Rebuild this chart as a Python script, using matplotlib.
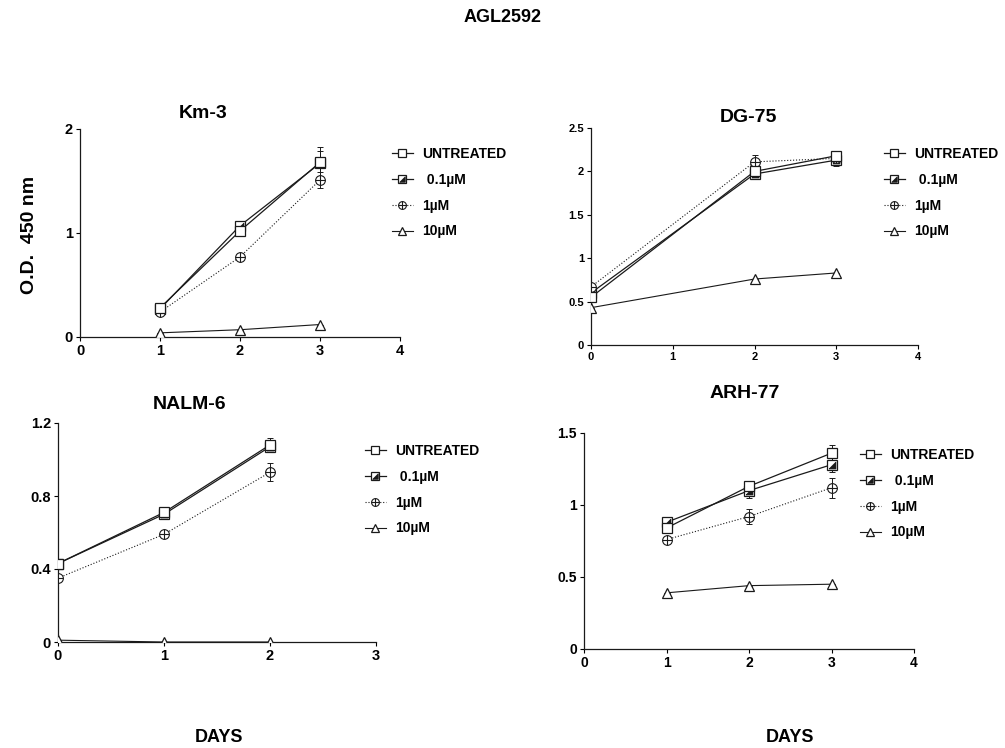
import matplotlib
matplotlib.use('Agg')
import matplotlib.pyplot as plt
import numpy as np

plt.rcParams['font.family'] = ['Liberation Sans', 'DejaVu Sans']
plt.rcParams['font.weight'] = 'bold'

labels = ['UNTREATED', ' 0.1\u00b5M', '1\u00b5M', '10\u00b5M']

# Km-3
km3_days = [1, 2, 3]
km3_vals = [[0.28, 1.02, 1.68],
            [0.27, 1.07, 1.67],
            [0.24, 0.77, 1.51],
            [0.04, 0.07, 0.12]]
km3_err = [[0.02, 0.03, 0.15],
           [0.02, 0.02, 0.12],
           [0.02, 0.02, 0.08],
           [0.0, 0.0, 0.0]]

# DG-75
dg75_days = [0, 2, 3]
dg75_vals = [[0.55, 2.00, 2.18],
             [0.60, 1.97, 2.13],
             [0.67, 2.11, 2.15],
             [0.43, 0.76, 0.83]]
dg75_err = [[0.02, 0.04, 0.03],
            [0.02, 0.05, 0.07],
            [0.02, 0.08, 0.04],
            [0.0, 0.0, 0.0]]

# NALM-6
nalm6_days = [0, 1, 2]
nalm6_vals = [[0.43, 0.71, 1.08],
              [0.43, 0.70, 1.07],
              [0.35, 0.59, 0.93],
              [0.01, 0.0, 0.0]]
nalm6_err = [[0.01, 0.02, 0.04],
             [0.01, 0.02, 0.03],
             [0.01, 0.01, 0.05],
             [0.0, 0.0, 0.0]]

# ARH-77
arh77_days = [1, 2, 3]
arh77_vals = [[0.84, 1.13, 1.36],
              [0.88, 1.10, 1.28],
              [0.76, 0.92, 1.12],
              [0.39, 0.44, 0.45]]
arh77_err = [[0.03, 0.04, 0.06],
             [0.03, 0.05, 0.05],
             [0.02, 0.05, 0.07],
             [0.0, 0.0, 0.0]]

LC = '#1a1a1a'
tri_lr = [(-1, -1), (1, -1), (1, 1), (-1, -1)]
W, H = 1005, 748


def draw_series(ax, days, vals, errs):
    handles = []
    for i in range(4):
        y = vals[i]
        e = errs[i]
        ls = ':' if i == 2 else '-'
        lw = 0.9 if i < 2 else 0.8
        ax.errorbar(days, y, yerr=e, fmt='none', ecolor=LC, elinewidth=0.7,
                    capsize=2, capthick=0.7, zorder=2)
        if i == 0:
            h = ax.plot(days, y, ls=ls, lw=lw, color=LC, marker='s', ms=7,
                        mfc='white', mec=LC, mew=0.9, zorder=4)[0]
        elif i == 1:
            h1 = ax.plot(days, y, ls=ls, lw=lw, color=LC, marker='s', ms=7,
                         mfc='white', mec=LC, mew=0.9, zorder=3)[0]
            h2 = ax.plot(days, y, ls='none', color=LC, marker=tri_lr, ms=5,
                         mfc=LC, mec=LC, mew=0.5, zorder=3)[0]
            h = (h1, h2)
        elif i == 2:
            h1 = ax.plot(days, y, ls=ls, lw=lw, color=LC, marker='o', ms=7,
                         mfc='white', mec=LC, mew=0.8, zorder=3)[0]
            h2 = ax.plot(days, y, ls='none', color=LC, marker='+', ms=7,
                         mec=LC, mew=0.8, zorder=3)[0]
            h = (h1, h2)
        else:
            h = ax.plot(days, y, ls=ls, lw=lw, color=LC, marker='^', ms=7,
                        mfc='white', mec=LC, mew=0.9, zorder=3)[0]
        handles.append(h)
    return handles


def style_axis(ax, ylim, yticks, yticklabels, xlim, xticks, size=10):
    ax.set_xlim(*xlim)
    ax.set_ylim(*ylim)
    ax.set_xticks(xticks)
    ax.set_yticks(yticks)
    ax.set_yticklabels(yticklabels)
    for s in ['top', 'right']:
        ax.spines[s].set_visible(False)
    for s in ['left', 'bottom']:
        ax.spines[s].set_linewidth(0.9)
        ax.spines[s].set_color(LC)
    ax.tick_params(direction='out', length=3, width=0.8, labelsize=size, pad=2)
    for lab in ax.get_xticklabels() + ax.get_yticklabels():
        lab.set_fontweight('bold')


def add_legend(ax, handles, x, y):
    ax.legend(handles, labels, loc='upper left',
              bbox_to_anchor=(x / W, 1 - y / H), bbox_transform=fig.transFigure,
              frameon=False, borderpad=0, borderaxespad=0,
              handlelength=1.5, labelspacing=0.85, handletextpad=0.7,
              prop={'weight': 'bold', 'size': 10}, markerscale=0.8)


fig = plt.figure(figsize=(10.05, 7.48), dpi=100)


def add_axes(l, r, t, b):
    return fig.add_axes([l / W, 1 - b / H, (r - l) / W, (b - t) / H])


ax1 = add_axes(80, 400, 129, 337)
h = draw_series(ax1, km3_days, km3_vals, km3_err)
style_axis(ax1, (0, 2), [0, 1, 2], ['0', '1', '2'], (0, 4), [0, 1, 2, 3, 4],
           size=10.5)
add_legend(ax1, h, 392, 147)

ax2 = add_axes(591, 918, 128, 345)
h = draw_series(ax2, dg75_days, dg75_vals, dg75_err)
style_axis(ax2, (0, 2.5), [0, 0.5, 1, 1.5, 2, 2.5],
           ['0', '0.5', '1', '1.5', '2', '2.5'], (0, 4), [0, 1, 2, 3, 4],
           size=8)
add_legend(ax2, h, 884, 147)

ax3 = add_axes(58, 376, 423, 642)
h = draw_series(ax3, nalm6_days, nalm6_vals, nalm6_err)
style_axis(ax3, (0, 1.2), [0, 0.4, 0.8, 1.2], ['0', '0.4', '0.8', '1.2'],
           (0, 3), [0, 1, 2, 3], size=10.5)
add_legend(ax3, h, 365, 444)

ax4 = add_axes(584, 914, 433, 649)
h = draw_series(ax4, arh77_days, arh77_vals, arh77_err)
style_axis(ax4, (0, 1.5), [0, 0.5, 1, 1.5], ['0', '0.5', '1', '1.5'],
           (0, 4), [0, 1, 2, 3, 4], size=10)
add_legend(ax4, h, 860, 448)

fig.text(503 / W, 1 - 18 / H, 'AGL2592', ha='center', va='center',
         fontsize=13, fontweight='bold')
fig.text(203 / W, 1 - 113 / H, 'Km-3', ha='center', va='center',
         fontsize=14, fontweight='bold')
fig.text(748 / W, 1 - 117 / H, 'DG-75', ha='center', va='center',
         fontsize=14, fontweight='bold')
fig.text(190 / W, 1 - 404 / H, 'NALM-6', ha='center', va='center',
         fontsize=14, fontweight='bold')
fig.text(745 / W, 1 - 394 / H, 'ARH-77', ha='center', va='center',
         fontsize=14, fontweight='bold')
fig.text(30 / W, 1 - 235 / H, 'O.D.  450 nm', ha='center', va='center',
         rotation=90, fontsize=14, fontweight='bold')
fig.text(219 / W, 1 - 738 / H, 'DAYS', ha='center', va='center',
         fontsize=13, fontweight='bold')
fig.text(790 / W, 1 - 738 / H, 'DAYS', ha='center', va='center',
         fontsize=13, fontweight='bold')

fig.savefig('out.png', dpi=100)
